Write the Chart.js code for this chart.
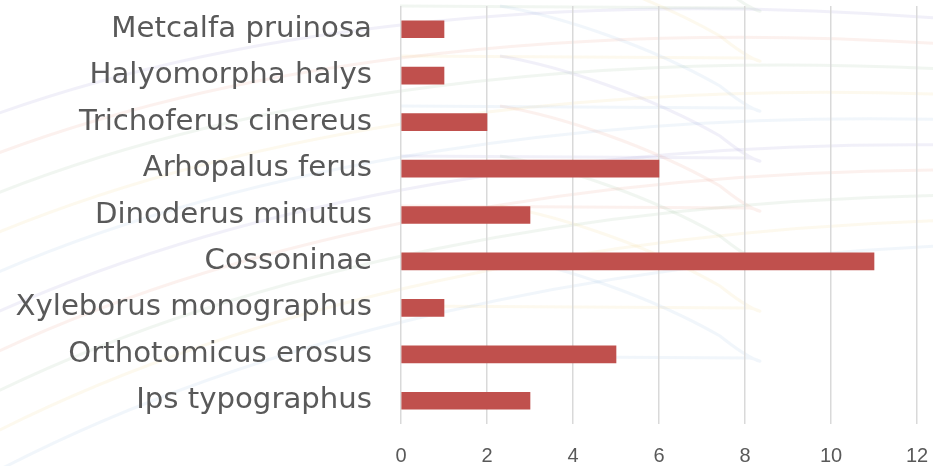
<!DOCTYPE html>
<html>
<head>
<meta charset="utf-8">
<script src="https://cdn.jsdelivr.net/npm/chart.js@4/dist/chart.umd.min.js"></script>
<style>
  html, body { margin: 0; padding: 0; background: #ffffff; }
  #wrap { width: 933px; height: 466px; position: relative; }
</style>
</head>
<body>
<div id="wrap"><canvas id="c"></canvas></div>
<script>
// Species recorded (top to bottom) and number of findings
const species = [
  'Metcalfa pruinosa',
  'Halyomorpha halys',
  'Trichoferus cinereus',
  'Arhopalus ferus',
  'Dinoderus minutus',
  'Cossoninae',
  'Xyleborus monographus',
  'Orthotomicus erosus',
  'Ips typographus'
];
const counts = [1, 1, 2, 6, 3, 11, 1, 5, 3];
const xTicks = [0, 2, 4, 6, 8, 10, 12];

// Faint decorative swirls behind the plot
const swirlPlugin = {
  id: 'swirls',
  beforeDraw(chart) {
    const ctx = chart.ctx;
    ctx.save();
    ctx.lineWidth = 3;
    const cols = ['rgba(120,110,200,0.10)', 'rgba(230,120,90,0.10)', 'rgba(120,170,120,0.10)', 'rgba(240,200,90,0.10)', 'rgba(120,170,220,0.10)'];
    for (let i = 0; i < 10; i++) {
      ctx.strokeStyle = cols[i % cols.length];
      ctx.beginPath();
      ctx.moveTo(-20, 120 + i * 40);
      ctx.bezierCurveTo(250, 20 + i * 35, 600, -10 + i * 30, 960, 20 + i * 25);
      ctx.stroke();
    }
    for (let i = 0; i < 8; i++) {
      ctx.strokeStyle = cols[(i + 2) % cols.length];
      const y = 6 + i * 50;
      ctx.beginPath();
      ctx.moveTo(400, y);
      ctx.lineTo(750, y + 2);
      ctx.bezierCurveTo(770, y + 6, 760, y + 12, 720, y - 20);
      ctx.bezierCurveTo(650, y - 60, 560, y - 90, 500, y - 100);
      ctx.stroke();
    }
    ctx.restore();
  }
};

new Chart(document.getElementById('c'), {
  type: 'bar',
  data: {
    labels: species,
    datasets: [{
      data: counts,
      backgroundColor: '#c0504d',
      borderWidth: 0,
      barThickness: 17
    }]
  },
  options: {
    indexAxis: 'y',
    responsive: true,
    maintainAspectRatio: false,
    animation: false,
    layout: { padding: { top: 6, right: 16, bottom: 0, left: 0 } },
    plugins: { legend: { display: false }, tooltip: { enabled: false } },
    scales: {
      x: {
        min: 0,
        max: 12,
        afterBuildTicks(scale) { scale.ticks = xTicks.map(v => ({ value: v })); },
        afterFit(scale) {
          scale.paddingLeft = 0; scale.paddingRight = 0;
          scale.paddingTop = 0; scale.paddingBottom = 0;
          scale.height = 42;
        },
        grid: { color: '#d9d9d9', lineWidth: 1.5, drawTicks: false },
        border: { display: false },
        ticks: {
          color: '#595959',
          padding: 20,
          font: { family: "'Liberation Sans'", size: 20 }
        }
      },
      y: {
        grid: { display: false, drawTicks: false },
        border: { display: false },
        afterFit(scale) { scale.width = 401; scale.paddingTop = 0; scale.paddingBottom = 0; },
        ticks: {
          color: '#595959',
          padding: 29,
          font: { family: "'DejaVu Sans'", size: 29.2 }
        }
      }
    }
  },
  plugins: [swirlPlugin]
});
</script>
</body>
</html>
